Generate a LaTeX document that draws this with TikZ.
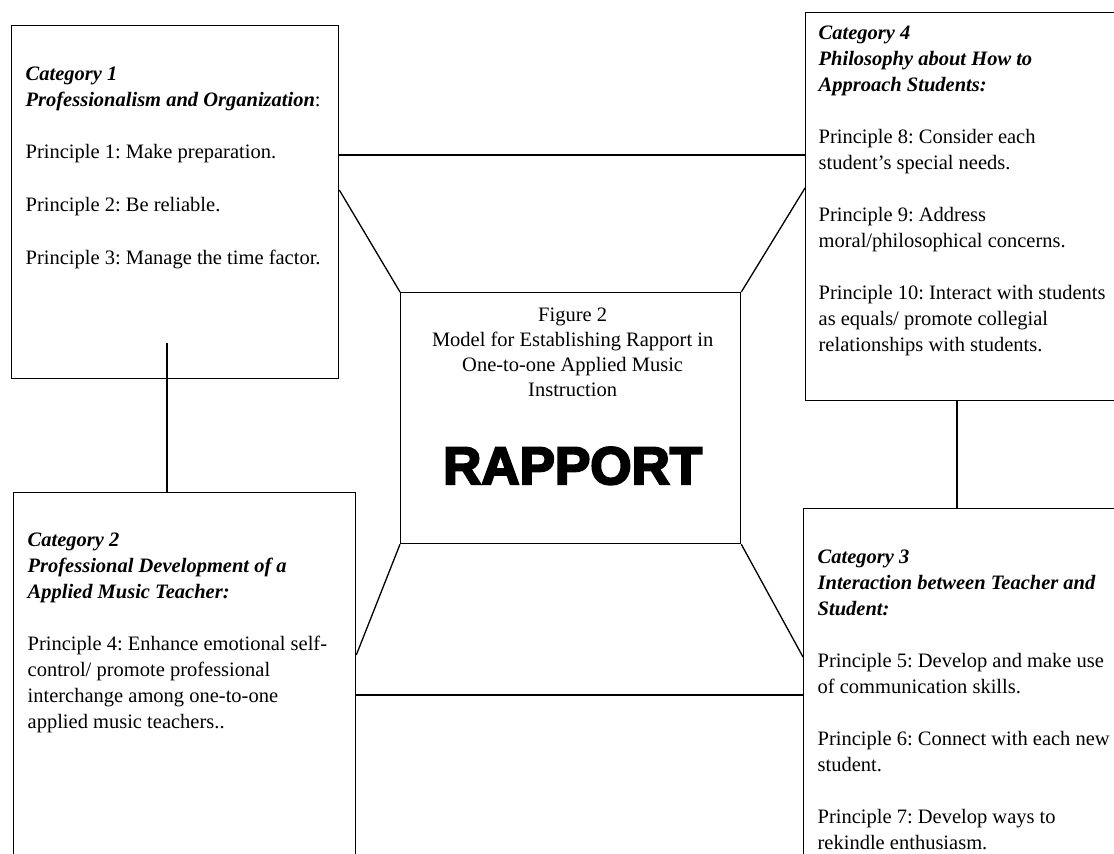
\documentclass[tikz,border=0pt]{standalone}
\usepackage{fontspec}
\setmainfont{Liberation Serif}
\newfontfamily\rapportfont{Liberation Sans}[BoldFeatures={FakeBold=4}]
\usetikzlibrary{positioning}
\frenchspacing

\begin{document}
\begin{tikzpicture}[x=1pt, y=-1pt, line width=1.3pt,
    catbox/.style={draw, inner sep=0pt, anchor=north west},
    cattext/.style={inner sep=0pt, align=left, font=\fontsize{20.5}{26}\selectfont},
    figtext/.style={inner sep=0pt, align=center, font=\fontsize{20.5}{25}\selectfont}]
  \useasboundingbox (0,0) rectangle (1114,854);
  \clip (0,0) rectangle (1114,854);

  % the four category boxes (some run past the page edge)
  \node[catbox, minimum width=327pt, minimum height=353pt] (cat1) at (11,25) {};
  \node[catbox, minimum width=340pt, minimum height=388pt] (cat4) at (805,12) {};
  \node[catbox, minimum width=342pt, minimum height=380pt] (cat2) at (13,492) {};
  \node[catbox, minimum width=340pt, minimum height=370pt] (cat3) at (803,508) {};

  % centre box
  \node[catbox, minimum width=340pt, minimum height=251pt] (rap) at (400,292) {};

  \node[cattext, below right=41pt and 14pt of cat1.north west] (cat1txt) {%
    {\bfseries\itshape Category 1}\\
    {\bfseries\itshape Professionalism and Organization}:\\[26pt]
    Principle 1: Make preparation.\\[27pt]
    Principle 2: Be reliable.\\[27pt]
    Principle 3: Manage the time factor.};

  \node[cattext, below right=13pt and 13pt of cat4.north west] (cat4txt) {%
    {\bfseries\itshape Category 4}\\
    {\bfseries\itshape Philosophy about How to}\\
    {\bfseries\itshape Approach Students:}\\[26pt]
    Principle 8: Consider each\\
    student's special needs.\\[26pt]
    Principle 9: Address\\
    moral/philosophical concerns.\\[26pt]
    Principle 10: Interact with students\\
    as equals/ promote collegial\\
    relationships with students.};

  \node[cattext, below right=40pt and 14pt of cat2.north west] (cat2txt) {%
    {\bfseries\itshape Category 2}\\
    {\bfseries\itshape Professional Development of a}\\
    {\bfseries\itshape Applied Music Teacher:}\\[26pt]
    Principle 4: Enhance emotional self-\\
    control/ promote professional\\
    interchange among one-to-one\\
    applied music teachers..};

  \node[cattext, below right=41pt and 14pt of cat3.north west] (cat3txt) {%
    {\bfseries\itshape Category 3}\\
    {\bfseries\itshape Interaction between Teacher and}\\
    {\bfseries\itshape Student:}\\[26pt]
    Principle 5: Develop and make use\\
    of communication skills.\\[26pt]
    Principle 6: Connect with each new\\
    student.\\[26pt]
    Principle 7: Develop ways to\\
    rekindle enthusiasm.};

  \node[figtext, below=15pt of rap.north, xshift=2pt] (figtxt) {%
    Figure 2\\
    Model for Establishing Rapport in\\
    One-to-one Applied Music\\
    Instruction};
  \node[inner sep=0pt, above=59pt of rap.south, xshift=2pt,
        font=\rapportfont\bfseries\fontsize{53}{53}\selectfont] (raptxt) {RAPPORT};

  % connectors
  \draw ([yshift=-130pt]cat1.north east) -- ([yshift=-130pt]cat1.north east -| cat4.west);
  \draw ([yshift=-165pt]cat1.north east) -- (rap.north west);
  \draw ([yshift=-176pt]cat4.north west) -- (rap.north east);
  \draw ([xshift=156pt, yshift=36pt]cat1.south west) -- ([xshift=156pt]cat1.south west |- cat2.north);
  \draw ([xshift=152pt]cat4.south west) -- ([xshift=152pt]cat4.south west |- cat3.north);
  \draw (rap.south west) -- ([yshift=-163pt]cat2.north east);
  \draw (rap.south east) -- ([yshift=-149pt]cat3.north west);
  \draw ([yshift=-203pt]cat2.north east) -- ([yshift=-203pt]cat2.north east -| cat3.west);
\end{tikzpicture}
\end{document}
